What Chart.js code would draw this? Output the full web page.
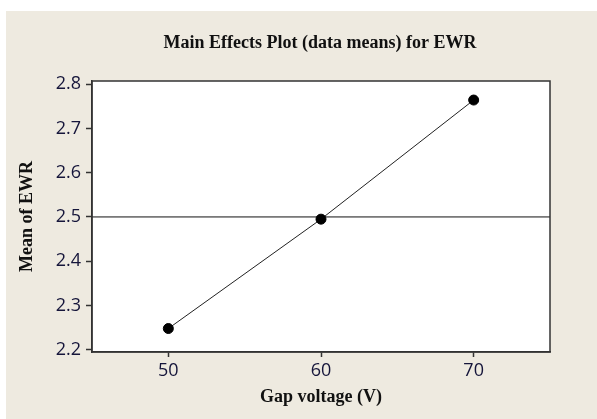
<!DOCTYPE html>
<html>
<head>
<meta charset="utf-8">
<script src="https://cdn.jsdelivr.net/npm/chart.js@4/dist/chart.umd.min.js"></script>
<style>
html,body{margin:0;padding:0;background:#ffffff;}
#wrap{width:597px;height:419px;position:relative;}
</style>
</head>
<body>
<div id="wrap"><canvas id="c" width="597" height="419"></canvas></div>
<script>
const chartTitle = "Main Effects Plot (data means) for EWR";
const xTitle = "Gap voltage (V)";
const yTitle = "Mean of EWR";
const gapVoltage = [50, 60, 70];
const meanEWR = [2.248, 2.495, 2.764];
const referenceMean = 2.5;
const xTicks = [50, 60, 70];
const yTicks = [2.2, 2.3, 2.4, 2.5, 2.6, 2.7, 2.8];
const xRange = [45, 75];
const yRange = [2.195, 2.807];

const bgPlugin = {
  id: 'bg',
  beforeDraw(chart) {
    const ctx = chart.ctx, a = chart.chartArea;
    ctx.save();
    ctx.fillStyle = '#EEEAE0';
    ctx.fillRect(6, 11, chart.width - 6, chart.height - 11);
    ctx.fillStyle = '#ffffff';
    ctx.fillRect(a.left, a.top, a.right - a.left, a.bottom - a.top);
    ctx.fillStyle = '#111111';
    ctx.font = 'bold 18px "Liberation Serif"';
    ctx.textAlign = 'center';
    ctx.textBaseline = 'middle';
    ctx.fillText(chartTitle, (a.left + a.right) / 2 - 1, 43);
    ctx.restore();
  },
  afterDatasetsDraw(chart) {
    const ctx = chart.ctx, a = chart.chartArea;
    ctx.save();
    ctx.strokeStyle = '#333333';
    ctx.lineWidth = 1.5;
    ctx.strokeRect(a.left, a.top, a.right - a.left, a.bottom - a.top);
    ctx.restore();
  }
};

new Chart(document.getElementById('c'), {
  type: 'scatter',
  data: {
    datasets: [
      {
        data: [{x: xRange[0], y: referenceMean}, {x: xRange[1], y: referenceMean}],
        showLine: true,
        borderColor: '#111111',
        borderWidth: 1,
        pointRadius: 0,
        order: 2
      },
      {
        data: gapVoltage.map((v, i) => ({x: v, y: meanEWR[i]})),
        showLine: true,
        borderColor: '#222222',
        borderWidth: 1,
        backgroundColor: '#000000',
        pointBackgroundColor: '#000000',
        pointBorderColor: '#000000',
        pointRadius: 5,
        order: 1
      }
    ]
  },
  options: {
    responsive: false,
    animation: false,
    events: [],
    layout: { padding: { top: 81, right: 47, left: 0, bottom: 0 } },
    plugins: { legend: { display: false }, tooltip: { enabled: false }, title: { display: false } },
    scales: {
      x: {
        type: 'linear',
        min: xRange[0], max: xRange[1],
        afterBuildTicks(s) { s.ticks = xTicks.map(v => ({value: v})); },
        afterFit(s) { s.height = 67; },
        grid: { drawOnChartArea: false, drawTicks: true, tickLength: 5, color: '#333333', tickWidth: 1.5 },
        border: { display: true, color: '#333333', width: 1.5 },
        ticks: { color: '#15153a', font: { family: '"Open Sans"', size: 18 }, padding: 3, maxRotation: 0 },
        title: { display: true, text: xTitle, color: '#111111', font: { family: '"Liberation Serif"', size: 18, weight: 'bold' }, padding: { top: 0, bottom: 11 } }
      },
      y: {
        type: 'linear',
        min: yRange[0], max: yRange[1],
        afterBuildTicks(s) { s.ticks = yTicks.map(v => ({value: v})); },
        afterFit(s) { s.width = 92; },
        grid: { drawOnChartArea: false, drawTicks: true, tickLength: 6, color: '#333333', tickWidth: 1.5 },
        border: { display: true, color: '#333333', width: 1.5 },
        ticks: { color: '#15153a', font: { family: '"Open Sans"', size: 18 }, padding: 5, callback: v => v.toFixed(1) },
        title: { display: true, text: yTitle, color: '#111111', font: { family: '"Liberation Serif"', size: 18, weight: 'bold' }, padding: { top: 17, bottom: 0 } }
      }
    }
  },
  plugins: [bgPlugin]
});
</script>
</body>
</html>
